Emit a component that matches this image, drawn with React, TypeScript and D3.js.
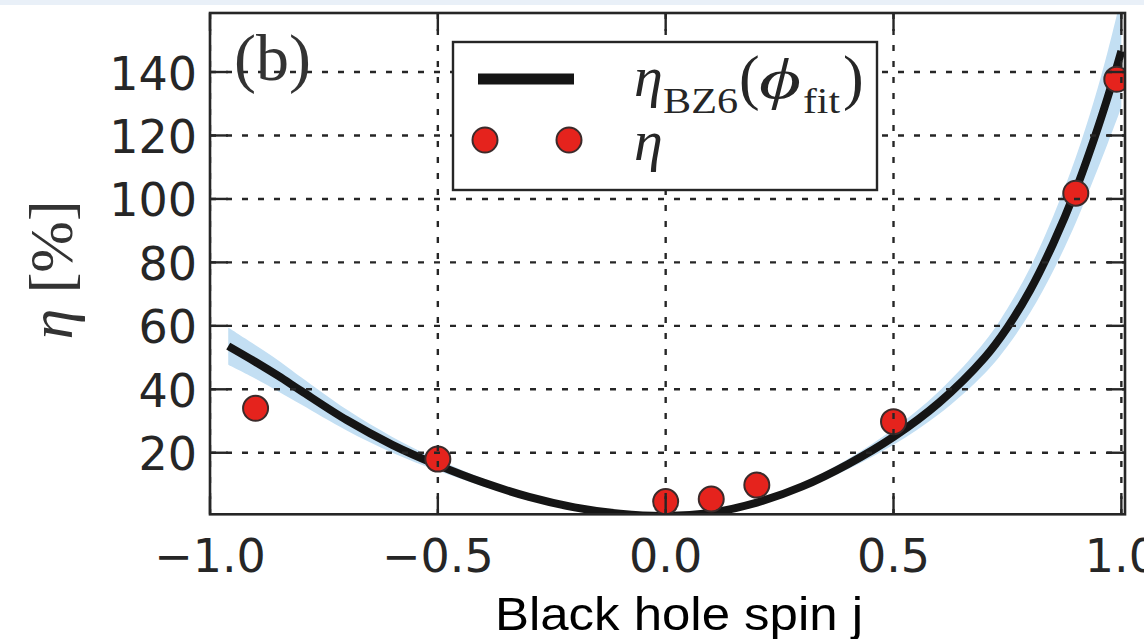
import React from 'react';
import * as d3 from 'd3';

// Fitted curve eta_BZ6(phi_fit) [%] vs black hole spin j
const curveJ = [-0.96, -0.9, -0.85, -0.8, -0.7, -0.6, -0.5, -0.4, -0.3, -0.2, -0.1, 0.0, 0.1, 0.2, 0.3, 0.4, 0.5, 0.6, 0.7, 0.75, 0.8, 0.85, 0.9, 0.94, 0.97, 0.99, 1.0];
const curveEta = [53.6, 48.6, 44.2, 39.5, 30.3, 22.5, 16.1, 10.6, 6.1, 2.8, 0.8, 0.1, 1.1, 4.3, 9.4, 16.4, 25.0, 35.8, 50.0, 59.5, 71.3, 85.8, 102.8, 118.8, 132.0, 141.6, 146.6];
// Uncertainty band
const bandUpper = [59.5, 53.9, 49.1, 43.8, 33.6, 25.0, 17.9, 11.8, 6.8, 3.1, 0.9, 0.1, 1.2, 4.7, 10.3, 18.0, 27.5, 39.4, 55.0, 65.5, 78.4, 94.4, 113.1, 131.0, 146.5, 158.0, 164.0];
const bandLower = [47.7, 43.3, 39.3, 35.2, 27.0, 20.0, 14.3, 9.4, 5.4, 2.5, 0.7, 0.1, 1.0, 3.9, 8.5, 14.8, 22.5, 32.2, 45.0, 53.6, 64.2, 77.2, 92.5, 106.5, 117.5, 125.0, 129.0];
// Measured efficiencies
const pointJ = [-0.9, -0.5, 0.0, 0.1, 0.2, 0.5, 0.9, 0.99];
const pointEta = [34.0, 18.0, 4.6, 5.4, 9.8, 29.8, 101.8, 137.7];
// Ticks
const xTicks = [-1.0, -0.5, 0.0, 0.5, 1.0];
const yTicks = [20, 40, 60, 80, 100, 120, 140];

const L = 210, R = 1125, T = 13, B = 514.3;
const ink = '#262626';

export default function App() {
  const x = d3.scaleLinear().domain([-1, 1.008]).range([L, R]);
  const y = d3.scaleLinear().domain([0.6, 158.6]).range([B, T]);

  const curvePts = curveJ.map((j, i) => [j, curveEta[i]] as [number, number]);
  const line = d3.line<[number, number]>().x(d => x(d[0])).y(d => y(d[1])).curve(d3.curveCatmullRom.alpha(0.5));
  const bandPts = curveJ.map((j, i) => ({ j, lo: bandLower[i], hi: bandUpper[i] }));
  const area = d3.area<{ j: number; lo: number; hi: number }>()
    .x(d => x(d.j)).y0(d => y(d.lo)).y1(d => y(d.hi)).curve(d3.curveCatmullRom.alpha(0.5));
  const fmt = d3.format('.1f');
  const tickLen = 18;
  const gridDash = '6 10';
  const serif = '"Liberation Serif", "DejaVu Serif", serif';
  const sans = '"DejaVu Sans", sans-serif';

  return (
    <svg width={1144} height={639} style={{ position: 'fixed', left: 0, top: 0, background: '#fff' }}>
      <rect x={0} y={0} width={1144} height={5} fill="#e9f0f8" />
      <defs>
        <clipPath id="plot">
          <rect x={L} y={T} width={R - L} height={B - T} />
        </clipPath>
      </defs>
      <g clipPath="url(#plot)">
        <path d={area(bandPts) || ''} fill="#c3dff3" />
        <path d={line(curvePts) || ''} fill="none" stroke="#151515" strokeWidth={8} />
        {pointJ.map((j, i) => (
          <circle key={i} cx={x(j)} cy={y(pointEta[i])} r={12.5} fill="#e5231d" stroke="#3b2b2b" strokeWidth={2} />
        ))}
        {/* grid */}
        {xTicks.map(t => (
          <line key={'gx' + t} x1={x(t)} x2={x(t)} y1={T} y2={B} stroke={ink} strokeWidth={2.4} strokeDasharray={gridDash} />
        ))}
        {yTicks.map(t => (
          <line key={'gy' + t} x1={L} x2={R} y1={y(t)} y2={y(t)} stroke={ink} strokeWidth={2.4} strokeDasharray={gridDash} />
        ))}
      </g>
      {/* ticks */}
      {xTicks.map(t => (
        <g key={'tx' + t}>
          <line x1={x(t)} x2={x(t)} y1={B} y2={B - tickLen} stroke={ink} strokeWidth={2.4} />
          <line x1={x(t)} x2={x(t)} y1={T} y2={T + tickLen} stroke={ink} strokeWidth={2.4} />
          <text x={x(t)} y={572} textAnchor="middle" fontFamily={sans} fontSize={46} fill={ink}>{fmt(t)}</text>
        </g>
      ))}
      {yTicks.map(t => (
        <g key={'ty' + t}>
          <line x1={L} x2={L + tickLen} y1={y(t)} y2={y(t)} stroke={ink} strokeWidth={2.4} />
          <line x1={R} x2={R - tickLen} y1={y(t)} y2={y(t)} stroke={ink} strokeWidth={2.4} />
          <text x={197} y={y(t) + 17.5} textAnchor="end" fontFamily={sans} fontSize={46} fill={ink}>{t}</text>
        </g>
      ))}
      <rect x={L} y={T} width={R - L} height={B - T} fill="none" stroke={ink} strokeWidth={2.6} />

      {/* panel label */}
      <text x={234} y={80} fontFamily={serif} fontSize={66} fill="#333">(b)</text>

      {/* legend */}
      <rect x={453} y={42} width={424} height={148} fill="#fff" stroke={ink} strokeWidth={2.4} />
      <line x1={478} x2={574} y1={79} y2={79} stroke="#151515" strokeWidth={11} />
      <circle cx={485} cy={140} r={12.5} fill="#e5231d" stroke="#3b2b2b" strokeWidth={2} />
      <circle cx={569} cy={140} r={12.5} fill="#e5231d" stroke="#3b2b2b" strokeWidth={2} />
      <g fontFamily={serif} fill={ink}>
        <text x={634} y={96} fontSize={58} fontStyle="italic">η</text>
        <text x={663} y={113} fontSize={36} textLength={75} lengthAdjust="spacingAndGlyphs">BZ6</text>
        <text x={739} y={98} fontSize={62}>(</text>
        <text x={759} y={98} fontSize={56} fontStyle="italic" textLength={42} lengthAdjust="spacingAndGlyphs">ϕ</text>
        <text x={803} y={113} fontSize={36} textLength={37} lengthAdjust="spacingAndGlyphs">fit</text>
        <text x={843} y={98} fontSize={62}>)</text>
        <text x={634} y={160} fontSize={58} fontStyle="italic">η</text>
      </g>

      {/* axis labels */}
      <text transform="translate(72,270) rotate(-90)" textAnchor="middle" fontFamily={serif} fontSize={62} fill="#333">
        <tspan fontStyle="italic">η</tspan> [%]
      </text>
      <text x={679} y={630} textAnchor="middle" fontFamily='"Liberation Sans", Arial, sans-serif' fontSize={47} fill="#000" textLength={368} lengthAdjust="spacingAndGlyphs">Black hole spin j</text>
    </svg>
  );
}
